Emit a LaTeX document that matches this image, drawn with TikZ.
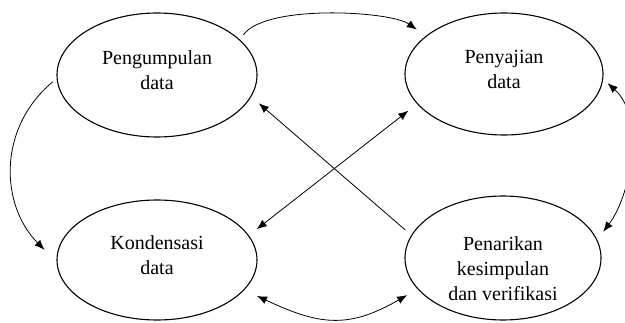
\documentclass[tikz,border=0pt]{standalone}
\usepackage{fontspec}
\setmainfont{Liberation Serif}
\usetikzlibrary{shapes.geometric,arrows.meta}
\tikzset{
  blob/.style={draw=black, line width=1.1pt, ellipse, inner sep=0pt},
  lbl/.style={align=center, inner sep=0pt, font=\fontsize{20pt}{25pt}\selectfont},
  conn/.style={draw=black, line width=0.8pt, -{Latex[length=10pt,width=8pt]}},
  conn2/.style={draw=black, line width=0.8pt, {Latex[length=10pt,width=8pt]}-{Latex[length=10pt,width=8pt]}}
}
\begin{document}
\begin{tikzpicture}[x=1pt,y=1pt]
\useasboundingbox (0,0) rectangle (625,322);
% ellipses
\node[blob, minimum width=200pt, minimum height=124pt] (pd) at (157,247) {};
\node[blob, minimum width=198pt, minimum height=122pt] (sd) at (504,248) {};
\node[blob, minimum width=200pt, minimum height=120pt] (kd) at (157,62) {};
\node[blob, minimum width=196pt, minimum height=124pt] (pk) at (503,64) {};
% texts
\node[lbl] (tpd) at (157,252) {Pengumpulan\\data};
\node[lbl] (tsd) at (504,253) {Penyajian\\data};
\node[lbl] (tkd) at (157,67) {Kondensasi\\data};
\node[lbl] (tpk) at (503,53) {Penarikan\\kesimpulan\\dan verifikasi};
% connectors
\draw[conn, shorten <=6pt, shorten >=11pt] (pd.23) to[out=55,in=145,looseness=0.6] (sd.154);
\draw[conn, shorten <=5pt, shorten >=17pt] (pd.182) to[out=220,in=135,looseness=1.1] (kd.181);
\draw[conn2, shorten <=6pt, shorten >=10pt] (sd.-3) to[out=-42,in=53,looseness=0.9] (pk.11);
\draw[conn2, shorten <=14pt, shorten >=12pt] (kd.-19) to[out=-25,in=210,looseness=1.2] (pk.200);
\draw[conn, shorten <=8pt, shorten >=10pt] (pk.166) -- (pd.-13);
\draw[conn2, shorten <=10pt, shorten >=11pt] (kd.15) -- (sd.199);
\end{tikzpicture}
\end{document}
